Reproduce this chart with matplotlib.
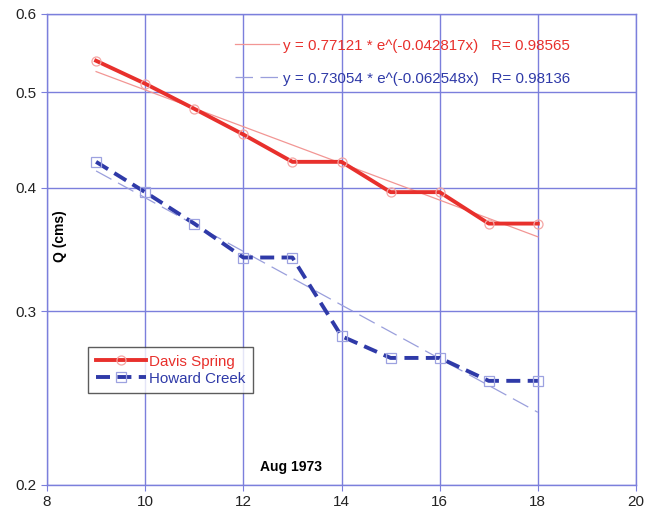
import numpy as np
import matplotlib.pyplot as plt

plt.rcParams['font.family'] = ['Liberation Sans', 'DejaVu Sans']

days = [9, 10, 11, 12, 13, 14, 15, 16, 17, 18]
davis = [0.538, 0.510, 0.481, 0.453, 0.425, 0.425, 0.396, 0.396, 0.368, 0.368]
howard = [0.425, 0.396, 0.368, 0.340, 0.340, 0.283, 0.269, 0.269, 0.255, 0.255]

davis_a, davis_b, davis_r = 0.77121, -0.042817, 0.98565
howard_a, howard_b, howard_r = 0.73054, -0.062548, 0.98136

grid_col = '#7b7fdc'
red = '#e8302c'
blue = '#2f3aa8'

fig = plt.figure(figsize=(6.54, 5.13), dpi=100)
ax = fig.add_axes([47/654, 28/513, 589/654, 471/513])

xfit = np.linspace(min(days), max(days), 50)
fit_d, = ax.plot(xfit, davis_a*np.exp(davis_b*xfit), color='#f29694', lw=0.9)
fit_h, = ax.plot(xfit, howard_a*np.exp(howard_b*xfit), color='#9a9fdc', lw=0.9,
                 dashes=(14, 6))

ld, = ax.plot(days, davis, color=red, lw=2.8, marker='o', ms=6.5,
              mfc='none', mec='#f4a6a4', mew=0.9, label='Davis Spring')
lh, = ax.plot(days, howard, color=blue, lw=2.8, dashes=(3.6, 1.9), marker='s', ms=6.5,
              mfc='none', mec='#9da2e0', mew=0.9, label='Howard Creek')

ax.set_yscale('log')
ax.set_xlim(8, 20)
ax.set_ylim(0.2, 0.6)
ax.set_xticks(range(8, 21, 2))
yt = [0.2, 0.3, 0.4, 0.5, 0.6]
ax.set_yticks(yt)
ax.set_yticklabels([str(v) for v in yt])
ax.yaxis.set_minor_locator(plt.NullLocator())
ax.tick_params(labelsize=11, colors=grid_col, labelcolor='#222222', length=4)
ax.grid(True, color=grid_col, lw=1)
for s in ax.spines.values():
    s.set_color(grid_col)
    s.set_linewidth(1)

ax.text(0.022, 0.529, 'Q (cms)', transform=ax.transAxes, rotation=90,
        fontsize=10, fontweight='bold', ha='center', va='center')
ax.text(0.415, 0.038, 'Aug 1973', transform=ax.transAxes,
        fontsize=10, fontweight='bold', ha='center', va='center')

fit_leg = ax.legend(
    [fit_d, fit_h],
    ['y = %.5f * e^(%.6f' % (davis_a, davis_b) + 'x)   R= %.5f' % davis_r,
     'y = %.5f * e^(%.6f' % (howard_a, howard_b) + 'x)   R= %.5f' % howard_r],
    loc='upper left', bbox_to_anchor=(221/654, 1 - 25/513), bbox_transform=fig.transFigure,
    frameon=False, fontsize=10.9, handlelength=2.9, handletextpad=0.3, labelspacing=1.25)
fit_leg.get_texts()[0].set_color(red)
fit_leg.get_texts()[1].set_color(blue)
ax.add_artist(fit_leg)

leg = ax.legend(handles=[ld, lh], loc='upper left',
                bbox_to_anchor=(88/654, 1 - 347/513), bbox_transform=fig.transFigure,
                fontsize=10.9, handlelength=3.3, handletextpad=0.2, labelspacing=0.2,
                fancybox=False, edgecolor='#333333', borderpad=0.5, borderaxespad=0)
leg.get_frame().set_linewidth(1)
leg.get_texts()[0].set_color(red)
leg.get_texts()[1].set_color(blue)

fig.savefig('out.png', dpi=100)
